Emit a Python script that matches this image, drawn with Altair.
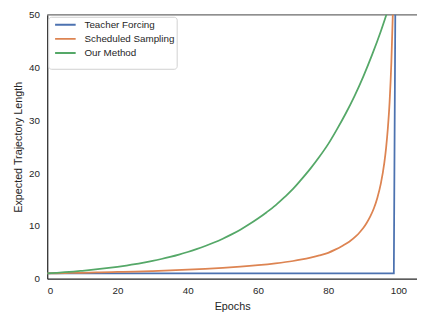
import altair as alt
import pandas as pd

# Teacher Forcing
tf_epoch = [0, 98.7, 99.2]
tf_len = [1.0, 1.0, 60.0]

# Scheduled Sampling
ss_epoch = [0, 5, 10, 15, 20, 25, 30, 35, 40, 45, 50, 55, 60, 65, 70, 72.5, 75, 77.5, 80, 82,
            84, 86, 88, 89, 90, 91, 92, 93, 94, 95, 96, 96.5, 97, 97.5, 98, 98.5]
ss_len = [1.0, 1.06, 1.12, 1.19, 1.27, 1.35, 1.45, 1.56, 1.7, 1.86, 2.05, 2.27, 2.55, 2.9, 3.35, 3.65, 4.0, 4.4, 4.9, 5.5,
          6.2, 7.0, 8.1, 8.8, 9.6, 10.6, 11.8, 13.3, 15.3, 18.0, 22.0, 24.8, 28.5, 33.5, 41.0, 52.0]

# Our Method
om_epoch = [0, 2.5, 5, 7.5, 10, 12.5, 15, 17.5, 20, 22.5, 25, 27.5, 30, 32.5, 35, 37.5, 40, 42.5, 45, 47.5,
            50, 52.5, 55, 57.5, 60, 62.5, 65, 67.5, 70, 72.5, 75, 77.5, 80, 82.5, 85, 87.5, 90, 92.5, 95, 97.5]
om_len = [1.0, 1.11, 1.22, 1.35, 1.5, 1.66, 1.84, 2.03, 2.25, 2.49, 2.75, 3.05, 3.37, 3.73, 4.13, 4.57, 5.06, 5.6, 6.19, 6.85,
          7.58, 8.39, 9.28, 10.3, 11.4, 12.6, 13.9, 15.4, 17.0, 18.9, 20.9, 23.1, 25.5, 28.3, 31.3, 34.6, 38.3, 42.4, 46.9, 51.9]

series = ["Teacher Forcing", "Scheduled Sampling", "Our Method"]
colors = ["#4C72B0", "#DD8452", "#55A868"]

rows = []
for name, xs, ys in [(series[0], tf_epoch, tf_len), (series[1], ss_epoch, ss_len), (series[2], om_epoch, om_len)]:
    for i, (x, y) in enumerate(zip(xs, ys)):
        rows.append({"Method": name, "Epochs": x, "Length": y, "order": i})
df = pd.DataFrame(rows)

TXT = "#262626"
FONT = "Liberation Sans"

lines = alt.Chart(df).mark_line(strokeWidth=1.8, clip=True, interpolate="monotone").encode(
    x=alt.X("Epochs:Q", scale=alt.Scale(domain=[0, 105.3], nice=False, zero=False),
            axis=alt.Axis(values=[0, 20, 40, 60, 80, 100], title="Epochs", grid=False,
                          ticks=False, labelPadding=7, titlePadding=5,
                          domainColor=TXT, domainWidth=1.25)),
    y=alt.Y("Length:Q", scale=alt.Scale(domain=[0, 50], nice=False),
            axis=alt.Axis(values=[0, 10, 20, 30, 40, 50], title="Expected Trajectory Length",
                          grid=False, ticks=False, labelPadding=8, titlePadding=5,
                          domainColor=TXT, domainWidth=1.25)),
    color=alt.Color("Method:N", scale=alt.Scale(domain=series, range=colors),
                    legend=alt.Legend(title=" ", titleOrient="bottom", titleFontSize=8, titlePadding=0,
                                      orient="none", legendX=1, legendY=2,
                                      symbolType="stroke", symbolSize=440, symbolStrokeWidth=2,
                                      symbolOffset=4,
                                      labelFontSize=10, labelFont=FONT, labelColor=TXT,
                                      labelExpr="datum.label + '\u00a0\u00a0\u00a0'",
                                      clipHeight=12, rowPadding=2.5, labelOffset=8,
                                      padding=2, strokeColor="#d0d0d0", cornerRadius=3,
                                      fillColor="white")),
    order="order:Q",
)

top = alt.Chart(pd.DataFrame({"y": [50]})).mark_rule(color="#6a6a6a", strokeWidth=1.25).encode(
    y="y:Q"
)

chart = alt.layer(top, lines).properties(
    width=377, height=269,
    autosize=alt.AutoSizeParams(type="none"),
    padding={"left": 40, "top": 4, "right": 0, "bottom": 31},
).configure_view(stroke=None).configure_axis(
    labelFont=FONT, titleFont=FONT, labelFontSize=10, titleFontSize=11,
    labelColor=TXT, titleColor=TXT, titleFontWeight="normal",
)

chart.save("out.html", embed_options={"renderer": "svg", "actions": False})
